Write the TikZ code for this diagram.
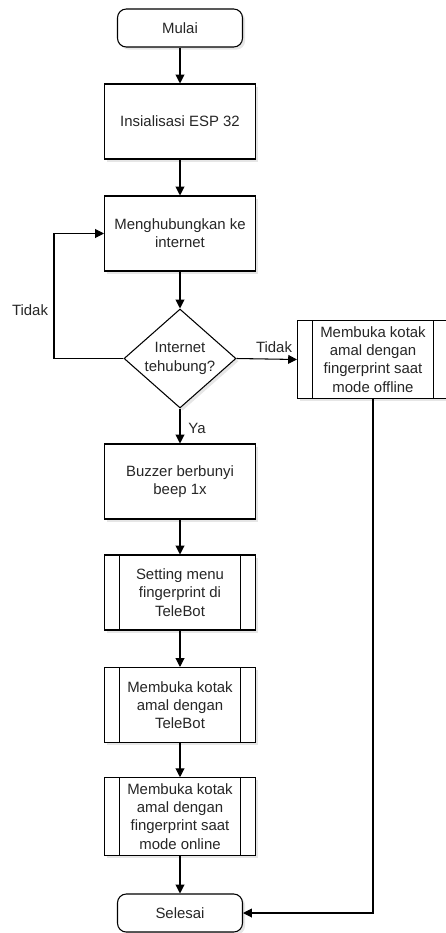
\documentclass[tikz,border=0pt]{standalone}
\usepackage{fontspec}
\setmainfont{Liberation Sans}
\usetikzlibrary{shapes.geometric, arrows.meta, shadows}

\tikzset{
    kotak/.style={draw, fill=white, line width=0.6pt, align=center,
        font=\fontsize{8.5}{10.4}\selectfont, text=black!85,
        drop shadow={shadow xshift=1.5pt, shadow yshift=-1.5pt, opacity=0.2}},
    terminal/.style={kotak, rounded corners=5pt, minimum width=2.5cm, minimum height=0.76cm},
    proses/.style={kotak, minimum width=3.02cm, minimum height=1.5cm},
    subproses/.style={proses, path picture={
        \draw[line width=0.6pt] ([xshift=0.3cm]path picture bounding box.north west)
            -- ([xshift=0.3cm]path picture bounding box.south west);
        \draw[line width=0.6pt] ([xshift=-0.3cm]path picture bounding box.north east)
            -- ([xshift=-0.3cm]path picture bounding box.south east);}},
    keputusan/.style={kotak, diamond, aspect=1.13, inner sep=0pt,
        minimum width=2.24cm, minimum height=1.98cm},
    panah/.style={line width=0.6pt, -{Triangle[length=5pt, width=5pt]}},
    label/.style={font=\fontsize{8.5}{10.4}\selectfont, text=black!85}
}

\begin{document}
\begin{tikzpicture}[x=0.02cm, y=-0.02cm]
    \useasboundingbox (0,0) rectangle (446,933);

    \node[terminal]  at (180,28)    (mulai)   {Mulai};
    \node[proses]    at (180,121.5) (init)    {Insialisasi ESP 32};
    \node[proses]    at (180,233.5) (konek)   {Menghubungkan ke\\internet};
    \node[keputusan] at (180,358.5) (cek)     {Internet\\tehubung?};
    \node[subproses] at (373,359.5) (offline) {Membuka kotak\\amal dengan\\fingerprint saat\\mode offline};
    \node[proses]    at (180,481.5) (buzzer)  {Buzzer berbunyi\\beep 1x};
    \node[subproses] at (180,592.5) (setting) {Setting menu\\fingerprint di\\TeleBot};
    \node[subproses] at (180,705)   (telebot) {Membuka kotak\\amal dengan\\TeleBot};
    \node[subproses] at (180,816.5) (online)  {Membuka kotak\\amal dengan\\fingerprint saat\\mode online};
    \node[terminal]  at (180,913)   (selesai) {Selesai};

    \coordinate (balik) at (54,358.5);
    \node[label] at (30,310) (tidak1) {Tidak};
    \node[label] at (274,347) (tidak2) {Tidak};
    \node[label] at (197,428) (ya) {Ya};

    \draw[panah] (mulai) -- (init);
    \draw[panah] (init) -- (konek);
    \draw[panah] (konek) -- (cek);
    \draw[panah] (cek.west) -- (balik) |- (konek.west);
    \draw[panah] (cek.east) -- (offline.west);
    \draw[panah] (cek.south) -- (buzzer.north);
    \draw[panah] (buzzer) -- (setting);
    \draw[panah] (setting) -- (telebot);
    \draw[panah] (telebot) -- (online);
    \draw[panah] (online) -- (selesai);
    \draw[panah] (offline.south) |- (selesai.east);
\end{tikzpicture}
\end{document}
